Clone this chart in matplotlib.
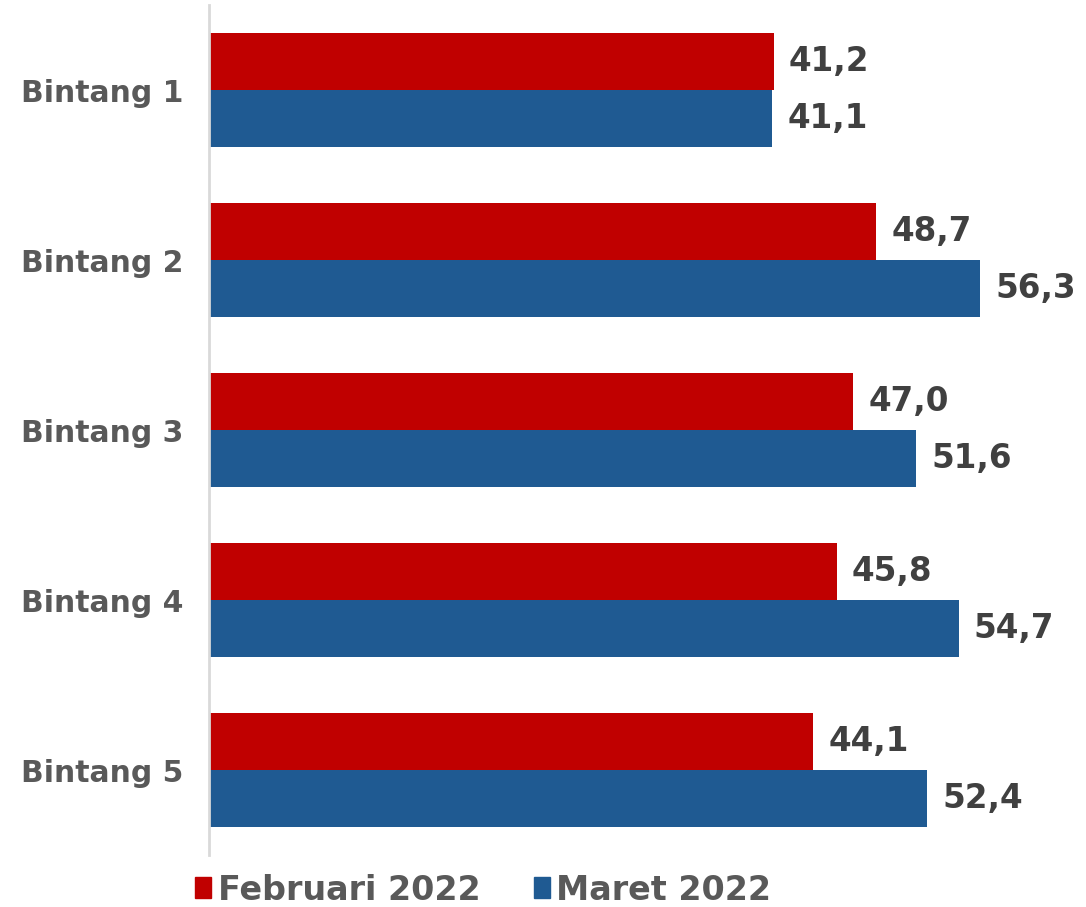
import matplotlib.pyplot as plt
import numpy as np
from matplotlib.patches import Patch

# Données
categories = ['Bintang 1', 'Bintang 2', 'Bintang 3', 'Bintang 4', 'Bintang 5']
februari_2022 = [41.2, 48.7, 47.0, 45.8, 44.1]
maret_2022 = [41.1, 56.3, 51.6, 54.7, 52.4]
series_names = ['Februari 2022', 'Maret 2022']

RED = '#c00000'
BLUE = '#1f5a92'
FONT = ['DejaVu Sans']

W, H = 1086, 907
fig = plt.figure(figsize=(W / 100, H / 100), dpi=100)
ax = fig.add_axes([209 / W, (H - 855) / H, (W - 209) / W, 850 / H])

y = np.arange(len(categories))
h = 0.333
ax.barh(y - h / 2, februari_2022, height=h, color=RED)
ax.barh(y + h / 2, maret_2022, height=h, color=BLUE)

for i in range(len(categories)):
    for val, off in ((februari_2022[i], -h / 2), (maret_2022[i], h / 2)):
        ax.text(val + 1.1, y[i] + off, f'{val:.1f}'.replace('.', ','),
                va='center', ha='left', fontsize=23.5, fontweight='bold',
                color='#404040', family=FONT)

ax.set_xlim(0, 64)
ax.set_ylim(len(categories) - 0.5, -0.5)
ax.set_yticks(y)
ax.set_yticklabels(categories, fontsize=21.5, fontweight='bold', color='#595959', family=FONT)
ax.tick_params(axis='y', length=0, pad=18.5)
ax.set_xticks([])
for s in ['top', 'right', 'bottom']:
    ax.spines[s].set_visible(False)
ax.spines['left'].set_color('#d9d9d9')
ax.spines['left'].set_linewidth(2)

handles = [Patch(color=RED), Patch(color=BLUE)]
leg = fig.legend(handles, series_names, loc='center left', bbox_to_anchor=(195 / W, 1 - 890 / H),
                 ncol=2, frameon=False, borderpad=0, borderaxespad=0,
                 handlelength=0.48, handleheight=0.6,
                 handletextpad=0.2, columnspacing=1.6,
                 prop={'family': FONT, 'weight': 'bold', 'size': 24})
for t in leg.get_texts():
    t.set_color('#595959')

fig.savefig('out.png', dpi=100)
